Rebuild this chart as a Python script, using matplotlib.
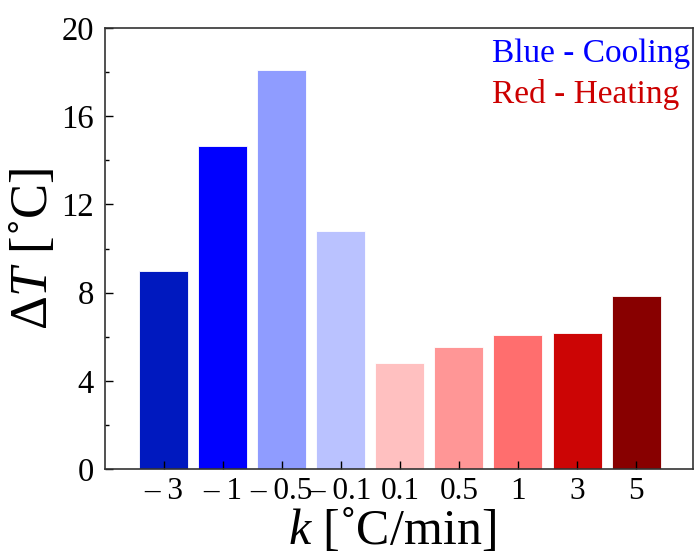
import matplotlib.pyplot as plt
from matplotlib.ticker import MultipleLocator

plt.rcParams["font.family"] = ["Liberation Serif", "DejaVu Serif"]
plt.rcParams["mathtext.fontset"] = "custom"
plt.rcParams["mathtext.rm"] = "Liberation Serif"
plt.rcParams["mathtext.it"] = "Liberation Serif:italic"

# heating/cooling rate k and the resulting temperature difference
rates = ["– 3", "– 1", "– 0.5", "– 0.1", "0.1", "0.5", "1", "3", "5"]
delta_t = [8.98, 14.65, 18.1, 10.8, 4.8, 5.53, 6.06, 6.17, 7.85]
colors = ["#0019BF", "#0000FF", "#8F9CFF", "#BAC2FF",
          "#FFC0C0", "#FF9696", "#FF6E6E", "#CC0505", "#880000"]

fig = plt.figure(figsize=(6.95, 5.55), dpi=100)
ax = fig.add_axes([0.1507, 0.155, 0.846, 0.7945])

x = range(len(rates))
ax.bar(x, delta_t, width=0.83, color=colors, edgecolor="white", linewidth=0.6)

ax.set_xlim(-1, 8.96)
ax.set_ylim(0, 20)
ax.set_xticks(list(x))
ax.set_xticklabels(rates)
ax.yaxis.set_major_locator(MultipleLocator(4))
ax.yaxis.set_minor_locator(MultipleLocator(2))

ax.tick_params(axis="y", which="major", direction="in", length=6, width=1,
               pad=8, labelsize=23.5)
ax.tick_params(axis="y", which="minor", direction="in", length=3, width=1)
ax.tick_params(axis="x", which="major", direction="in", length=6, width=1,
               pad=6, labelsize=22.5)
for spine in ax.spines.values():
    spine.set_linewidth(1.2)
    spine.set_color("#333333")

ax.set_ylabel(r"$\Delta T$ [˚C]", fontsize=38, labelpad=2)
ax.set_xlabel(r"$k$ [˚C/min]", fontsize=36)
ax.xaxis.label.set_va("baseline")
ax.xaxis.set_label_coords(0.489, -0.170)

# colour key written as plain text in the upper right corner
ax.text(0.659, 0.923, "Blue - Cooling", color="#0000FF", fontsize=24,
        ha="left", va="baseline", transform=ax.transAxes)
ax.text(0.659, 0.830, "Red - Heating", color="#CC0000", fontsize=24,
        ha="left", va="baseline", transform=ax.transAxes)

fig.savefig("out.png", dpi=100)
